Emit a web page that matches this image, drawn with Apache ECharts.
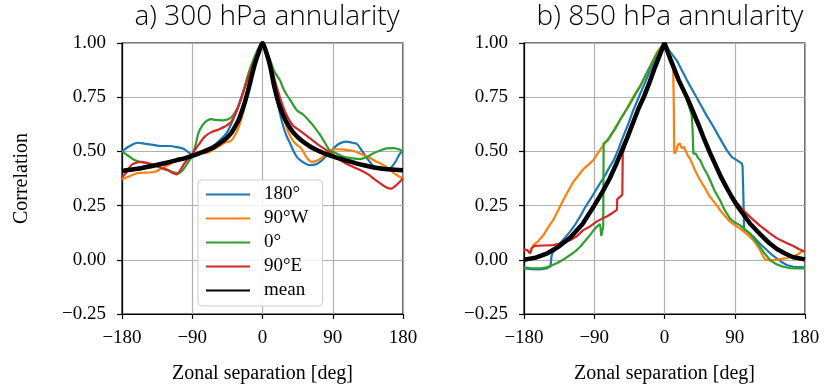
<!DOCTYPE html>
<html>
<head>
<meta charset="utf-8">
<script src="https://cdn.jsdelivr.net/npm/echarts@6/dist/echarts.min.js"></script>
<style>html,body{margin:0;padding:0;background:#fff}#c{width:826px;height:390px}</style>
</head>
<body>
<div id="c"></div>
<script>
const seriesNames = ['180°', '90°W', '0°', '90°E', 'mean'];
const panelTitles = ['a) 300 hPa annularity', 'b) 850 hPa annularity'];
const xTickValues = [-180, -90, 0, 90, 180];
const yTickValues = [-0.25, 0, 0.25, 0.5, 0.75, 1.0];

// 300 hPa: [zonal separation (deg), correlation]
const c300_180 = [[-180,0.50],[-170,0.525],[-160,0.54],[-150,0.535],[-140,0.53],[-130,0.525],[-120,0.525],[-110,0.52],[-100,0.51],[-93,0.49],[-86,0.48],[-75,0.50],[-65,0.52],[-55,0.55],[-45,0.59],[-35,0.67],[-25,0.77],[-18,0.85],[-10,0.93],[-5,0.975],[0,1.0],[5,0.95],[10,0.88],[14,0.82],[18,0.75],[22,0.68],[27,0.61],[31,0.57],[35,0.54],[40,0.50],[45,0.47],[52,0.45],[60,0.437],[68,0.44],[75,0.455],[82,0.48],[90,0.51],[98,0.535],[108,0.545],[115,0.54],[121,0.534],[128,0.50],[134,0.468],[140,0.44],[146,0.422],[155,0.415],[163,0.42],[170,0.45],[176,0.49],[180,0.50]];
const c300_90W = [[-180,0.37],[-172,0.383],[-160,0.40],[-150,0.402],[-138,0.406],[-130,0.42],[-121,0.437],[-112,0.455],[-104,0.468],[-96,0.476],[-89,0.483],[-80,0.488],[-70,0.495],[-62,0.51],[-55,0.525],[-48,0.54],[-40,0.55],[-33,0.59],[-27,0.65],[-22,0.72],[-16,0.81],[-10,0.89],[-5,0.96],[0,1.0],[5,0.95],[10,0.89],[14,0.84],[18,0.77],[22,0.72],[27,0.66],[31,0.61],[35,0.575],[39,0.55],[44,0.53],[48,0.52],[52,0.50],[58,0.465],[63,0.452],[68,0.455],[75,0.468],[82,0.49],[88,0.505],[95,0.51],[105,0.508],[116,0.503],[125,0.49],[134,0.476],[145,0.455],[155,0.437],[165,0.41],[172,0.391],[180,0.375]];
const c300_0 = [[-180,0.50],[-172,0.48],[-164,0.46],[-155,0.45],[-147,0.445],[-135,0.43],[-125,0.417],[-115,0.405],[-108,0.40],[-103,0.41],[-97,0.44],[-90,0.48],[-85,0.54],[-82,0.585],[-77,0.62],[-72,0.64],[-66,0.649],[-60,0.645],[-52,0.643],[-44,0.648],[-38,0.665],[-32,0.70],[-27,0.75],[-22,0.81],[-18,0.86],[-12,0.92],[-6,0.97],[0,1.0],[5,0.965],[10,0.92],[15,0.87],[22,0.83],[28,0.78],[35,0.74],[44,0.69],[52,0.67],[60,0.64],[67,0.61],[74,0.575],[80,0.54],[86,0.506],[95,0.49],[103,0.476],[115,0.468],[125,0.464],[134,0.475],[142,0.491],[150,0.503],[159,0.514],[168,0.515],[176,0.508],[180,0.50]];
const c300_90E = [[-180,0.38],[-175,0.40],[-168,0.437],[-160,0.45],[-155,0.452],[-148,0.447],[-138,0.437],[-130,0.425],[-121,0.414],[-115,0.40],[-110,0.394],[-105,0.415],[-100,0.445],[-90,0.49],[-82,0.53],[-74,0.568],[-65,0.59],[-57,0.60],[-48,0.615],[-40,0.637],[-31,0.706],[-25,0.77],[-18,0.845],[-10,0.92],[-5,0.96],[0,1.0],[5,0.96],[10,0.91],[18,0.80],[26,0.71],[32,0.66],[39,0.62],[50,0.59],[61,0.56],[70,0.535],[82,0.506],[92,0.48],[103,0.452],[115,0.43],[125,0.414],[135,0.395],[142,0.376],[150,0.355],[159,0.333],[165,0.328],[170,0.34],[176,0.36],[180,0.376]];
const c300_mean = [[-180,0.41],[-170,0.415],[-160,0.42],[-150,0.427],[-140,0.434],[-130,0.442],[-120,0.45],[-110,0.46],[-100,0.468],[-90,0.479],[-80,0.493],[-70,0.507],[-60,0.525],[-50,0.55],[-45,0.565],[-40,0.585],[-35,0.615],[-30,0.65],[-25,0.70],[-20,0.76],[-15,0.83],[-10,0.9],[-5,0.955],[0,1.0],[5,0.955],[10,0.89],[15,0.80],[20,0.73],[25,0.68],[30,0.64],[35,0.61],[40,0.585],[50,0.55],[60,0.525],[70,0.505],[80,0.49],[90,0.477],[100,0.466],[110,0.455],[120,0.445],[130,0.436],[140,0.428],[150,0.422],[160,0.418],[170,0.415],[180,0.413]];

// 850 hPa
const c850_180 = [[-180,-0.04],[-170,-0.043],[-160,-0.044],[-151,-0.04],[-146,-0.03],[-145,0.01],[-144,0.03],[-140,0.045],[-134,0.076],[-128,0.10],[-121,0.13],[-114,0.165],[-108,0.20],[-102,0.24],[-95.5,0.276],[-89,0.315],[-82.6,0.353],[-76,0.39],[-70,0.43],[-65,0.46],[-59,0.51],[-53,0.568],[-46,0.63],[-40,0.69],[-33,0.75],[-27,0.80],[-20,0.86],[-14,0.906],[-7,0.955],[0,1.0],[7,0.96],[15.7,0.92],[22,0.875],[28.5,0.83],[37,0.775],[45.6,0.72],[54,0.665],[62.7,0.614],[71,0.56],[79.8,0.506],[86,0.475],[92.6,0.46],[96,0.452],[99,0.445],[100,0.43],[101,0.30],[102,0.14],[106,0.13],[113.8,0.107],[122,0.075],[131,0.045],[137,0.025],[143.7,0.007],[150,-0.01],[156.5,-0.024],[165,-0.032],[180,-0.035]];
const c850_90W = [[-180,0.045],[-176,0.045],[-172,0.03],[-170,0.05],[-168,0.068],[-162,0.085],[-155,0.114],[-149,0.15],[-142.5,0.184],[-136,0.23],[-129.6,0.276],[-123,0.32],[-116.8,0.36],[-110,0.39],[-104,0.418],[-97,0.44],[-91,0.46],[-87,0.483],[-80,0.52],[-70,0.568],[-63,0.61],[-57,0.645],[-48,0.70],[-40,0.752],[-31,0.805],[-22.8,0.86],[-16,0.91],[-10,0.955],[-5,0.98],[0,1.0],[5,0.96],[9,0.92],[11,0.90],[12,0.70],[12.5,0.49],[15,0.50],[17,0.53],[19.7,0.537],[22,0.515],[25,0.52],[27,0.505],[30,0.48],[33,0.465],[36,0.44],[39,0.414],[45.5,0.368],[52,0.33],[58.3,0.29],[65,0.26],[71,0.23],[78,0.20],[84,0.176],[90,0.16],[96.7,0.145],[105,0.12],[113.8,0.091],[118,0.07],[122.3,0.045],[126,0.02],[128.8,0.002],[135,-0.003],[143.7,0.0],[150,0.004],[156.5,0.007],[163,0.014],[169.4,0.022],[175,0.035],[180,0.045]];
const c850_0 = [[-180,-0.035],[-168,-0.04],[-160,-0.04],[-151,-0.035],[-144,-0.025],[-138,-0.016],[-130,0.0],[-121,0.022],[-114,0.04],[-108,0.06],[-101,0.09],[-95.5,0.114],[-90,0.14],[-86,0.155],[-83,0.165],[-82,0.15],[-81,0.11],[-80,0.13],[-78.5,0.15],[-78,0.537],[-73,0.55],[-69.8,0.568],[-63,0.605],[-57,0.645],[-50,0.685],[-44,0.72],[-37,0.765],[-31,0.80],[-25,0.845],[-18.6,0.89],[-12,0.935],[-6,0.97],[0,1.0],[5,0.96],[10,0.91],[16,0.86],[22,0.80],[28,0.745],[33,0.69],[35,0.665],[36,0.60],[37,0.49],[40,0.49],[43,0.47],[45.6,0.46],[50,0.425],[54,0.40],[58.3,0.368],[64,0.32],[71,0.276],[77,0.23],[84,0.19],[90,0.172],[96.7,0.16],[103,0.14],[109.5,0.122],[116,0.09],[122.3,0.06],[128,0.03],[135,0.0],[143,-0.02],[152,-0.032],[160,-0.038],[170,-0.04],[180,-0.04]];
const c850_90E = [[-180,0.048],[-176,0.045],[-172.3,0.03],[-170,0.055],[-166,0.064],[-155,0.066],[-142.5,0.068],[-130,0.078],[-121,0.09],[-112,0.11],[-104,0.137],[-95,0.155],[-87,0.176],[-80,0.19],[-74,0.20],[-67,0.215],[-61,0.23],[-60.5,0.28],[-57,0.29],[-54,0.30],[-53.5,0.49],[-50,0.53],[-45,0.585],[-40,0.635],[-35,0.685],[-30,0.73],[-25,0.775],[-20,0.82],[-15,0.865],[-10,0.91],[-5,0.955],[0,1.0],[5,0.955],[10,0.91],[16,0.86],[22,0.80],[28,0.75],[32.6,0.706],[40,0.64],[50,0.568],[56,0.515],[62.7,0.46],[70,0.40],[79.8,0.33],[90,0.275],[101,0.228],[112,0.19],[122.3,0.158],[133,0.128],[143.7,0.10],[155,0.08],[165,0.064],[172,0.05],[180,0.037]];
const c850_mean = [[-180,0.0],[-165,0.01],[-150,0.03],[-135,0.062],[-120,0.105],[-105,0.165],[-90,0.25],[-80,0.31],[-70,0.376],[-62,0.44],[-55,0.5],[-48,0.56],[-40,0.635],[-33,0.70],[-26,0.755],[-20,0.81],[-13,0.88],[-6,0.945],[0,1.0],[6,0.94],[12,0.885],[18,0.83],[24,0.785],[30,0.74],[37,0.68],[44,0.62],[51,0.555],[58,0.495],[65,0.44],[72,0.385],[80,0.33],[87,0.285],[94,0.245],[101,0.21],[110,0.165],[122,0.12],[135,0.075],[144,0.05],[155,0.028],[165,0.012],[180,0.002]];

const panel300 = [c300_180, c300_90W, c300_0, c300_90E, c300_mean];
const panel850 = [c850_180, c850_90W, c850_0, c850_90E, c850_mean];
const colors = ['#1f77b4', '#ff7f0e', '#2ca02c', '#d62728', '#000000'];

const serif = '"Liberation Serif", "DejaVu Serif", serif';
const titleFont = '"Open Sans", "DejaVu Sans", sans-serif';
const fmt = v => (v < 0 ? '\u2212' : '') + Math.abs(v);
const fmtY = v => (v < 0 ? '\u2212' : '') + Math.abs(v).toFixed(2);

function xAxisFor(i) {
  return {
    type: 'value', gridIndex: i, min: -180, max: 180, interval: 90,
    name: 'Zonal separation [deg]', nameLocation: 'middle', nameGap: 50,
    nameTextStyle: { fontFamily: serif, fontSize: 20, color: '#000' },
    axisLine: { show: true, onZero: false, lineStyle: { color: '#000', width: 1.2 } },
    axisTick: { show: true, length: 5, lineStyle: { color: '#000', width: 1.2 } },
    axisLabel: { formatter: fmt, fontFamily: serif, fontSize: 19, color: '#000', margin: 15 },
    splitLine: { show: true, lineStyle: { color: '#b0b0b0', width: 1.2 } }
  };
}
function yAxisFor(i) {
  return {
    type: 'value', gridIndex: i, min: -0.25, max: 1, interval: 0.25,
    name: i === 0 ? 'Correlation' : '', nameLocation: 'middle', nameGap: 90,
    nameTextStyle: { fontFamily: serif, fontSize: 20, color: '#000' },
    axisLine: { show: true, onZero: false, lineStyle: { color: '#000', width: 1.2 } },
    axisTick: { show: true, length: 5, lineStyle: { color: '#000', width: 1.2 } },
    axisLabel: { formatter: fmtY, fontFamily: serif, fontSize: 19, color: '#000', margin: 16 },
    splitLine: { show: true, lineStyle: { color: '#b0b0b0', width: 1.2 } }
  };
}

const series = [];
[panel300, panel850].forEach((panel, p) => {
  panel.forEach((d, k) => {
    const isMean = k === 4;
    series.push({
      type: 'line', name: seriesNames[k], xAxisIndex: p, yAxisIndex: p,
      data: d, symbol: 'none', smooth: p === 0 ? 0.3 : false,
      clip: true, z: isMean ? 5 : 3,
      lineStyle: { color: colors[k], width: isMean ? 4.5 : 2.2 },
      itemStyle: { color: colors[k] }
    });
  });
});

const chart = echarts.init(document.getElementById('c'), null, { renderer: 'canvas' });
chart.setOption({
  animation: false,
  backgroundColor: '#fff',
  title: [
    { text: panelTitles[0], left: 262, textAlign: 'center', top: -2,
      textStyle: { fontFamily: titleFont, fontWeight: 300, fontSize: 28, color: '#000' } },
    { text: panelTitles[1], left: 665, textAlign: 'center', top: -2,
      textStyle: { fontFamily: titleFont, fontWeight: 300, fontSize: 28, color: '#000' } }
  ],
  grid: [
    { left: 122, top: 43, width: 281, height: 271, show: true, borderColor: '#000', borderWidth: 1.2, backgroundColor: 'transparent' },
    { left: 524, top: 43, width: 281, height: 271, show: true, borderColor: '#000', borderWidth: 1.2, backgroundColor: 'transparent' }
  ],
  xAxis: [xAxisFor(0), xAxisFor(1)],
  yAxis: [yAxisFor(0), yAxisFor(1)],
  legend: {
    data: seriesNames, orient: 'vertical', left: 198, top: 180,
    itemWidth: 44, itemHeight: 14, itemGap: 5,
    padding: [5, 14, 6, 7],
    itemStyle: { color: 'rgba(0,0,0,0)', borderWidth: 0, opacity: 0 },
    backgroundColor: 'rgba(255,255,255,0.85)', borderColor: '#cccccc', borderWidth: 1, borderRadius: 4,
    textStyle: { fontFamily: serif, fontSize: 19, color: '#000', lineHeight: 19, padding: [0, 0, 0, 9] }
  },
  series: series
});
</script>
</body>
</html>
